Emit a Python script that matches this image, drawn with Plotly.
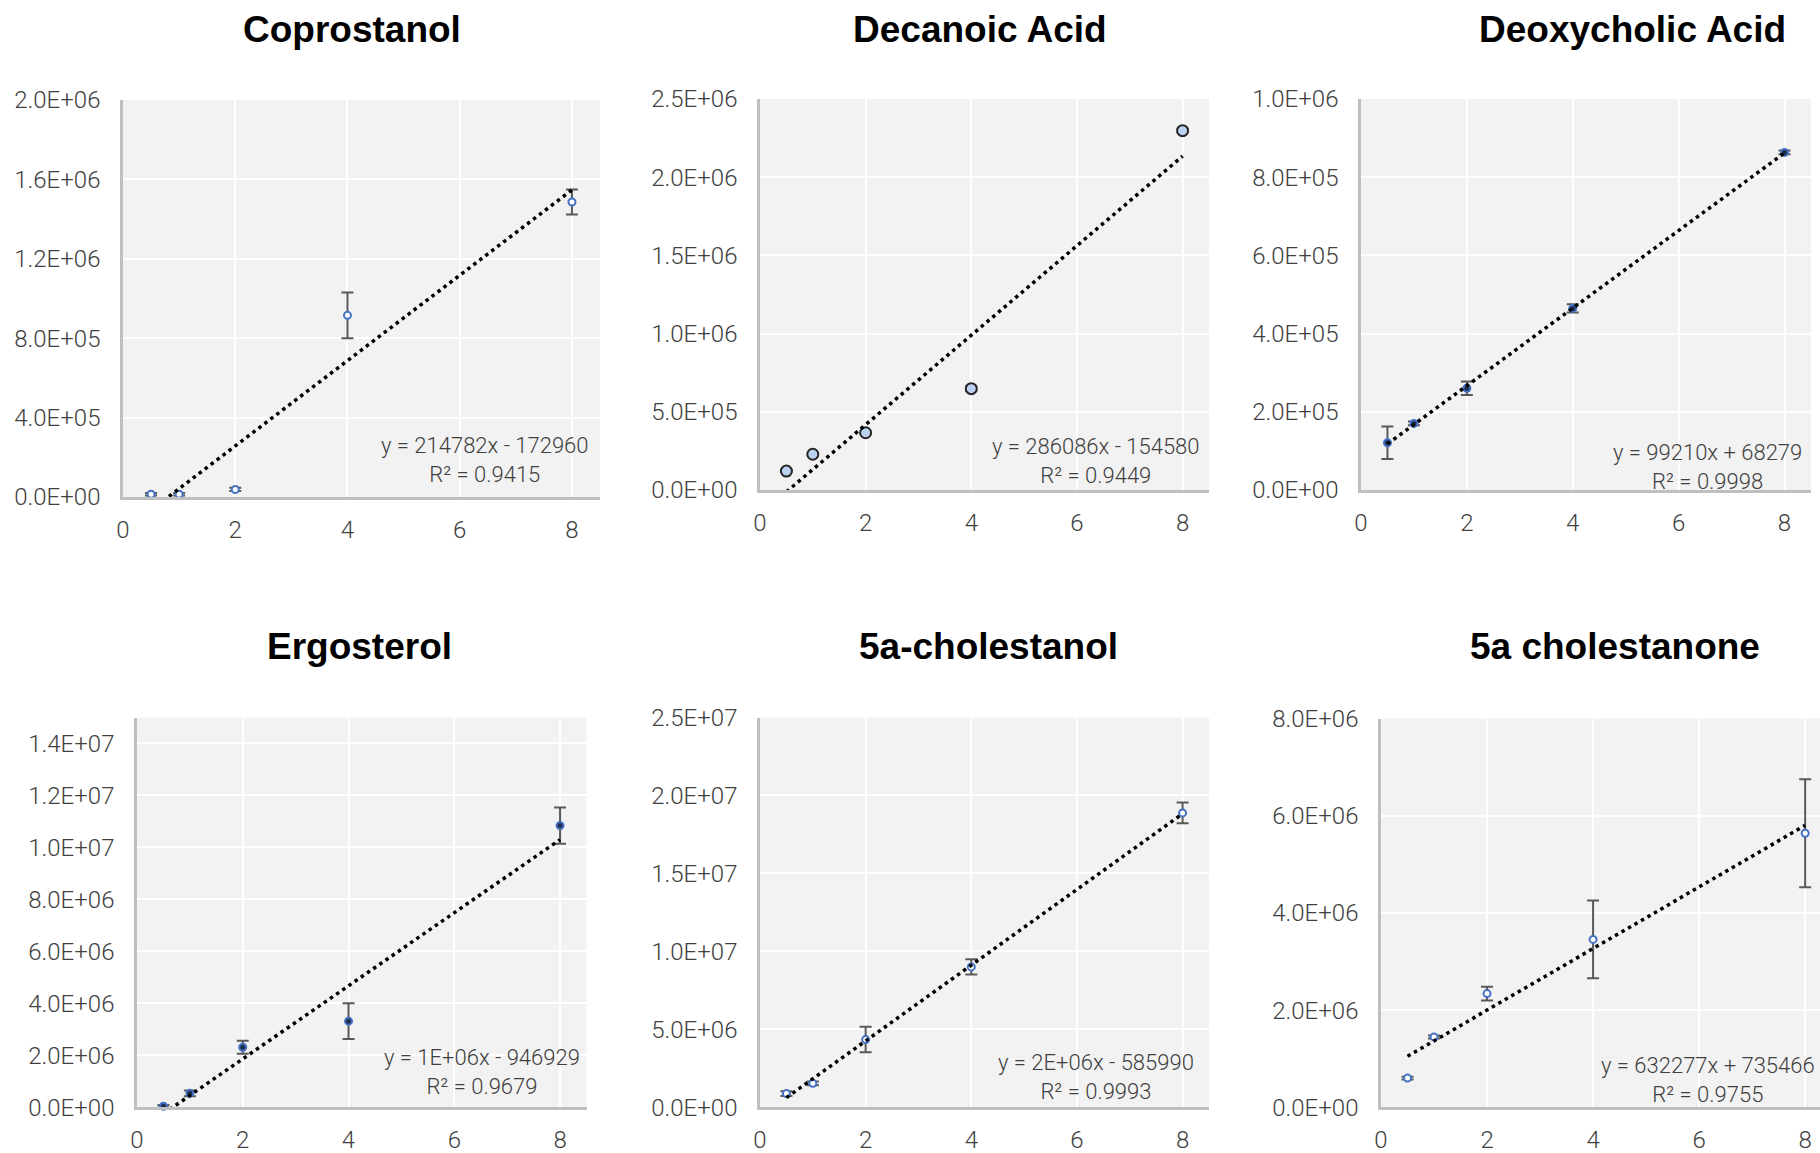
import numpy as np
import plotly.graph_objects as go

W, H = 1820, 1153

# Calibration standards (concentration) and mean peak area with SD
concentration = [0.5, 1, 2, 4, 8]

coprostanol_mean = [14000, 14000, 38000, 915000, 1486000]
coprostanol_sd = [6000, 6000, 8000, 115000, 63000]

decanoic_mean = [121000, 228500, 366000, 648000, 2297500]
decanoic_sd = [6000, 6000, 9000, 16000, 12000]

deoxycholic_mean = [120900, 170300, 260100, 464400, 863400]
deoxycholic_sd = [41700, 5000, 17400, 10500, 5000]

ergosterol_mean = [40000, 540000, 2310000, 3315000, 10840000]
ergosterol_sd = [50000, 110000, 250000, 690000, 700000]

cholestanol_mean = [882000, 1538000, 4344000, 9005000, 18880000]
cholestanol_sd = [150000, 120000, 815000, 490000, 670000]

cholestanone_mean = [601000, 1448000, 2339000, 3454000, 5640000]
cholestanone_sd = [30000, 30000, 140000, 800000, 1110000]

titles = ["Coprostanol", "Decanoic Acid", "Deoxycholic Acid",
          "Ergosterol", "5a-cholestanol", "5a cholestanone"]

equations = ["y = 214782x - 172960", "y = 286086x - 154580", "y = 99210x + 68279",
             "y = 1E+06x - 946929", "y = 2E+06x - 585990", "y = 632277x + 735466"]
r_squared = ["R² = 0.9415", "R² = 0.9449", "R² = 0.9998",
             "R² = 0.9679", "R² = 0.9993", "R² = 0.9755"]

x_ticks = [0, 2, 4, 6, 8]
y_ticks = [
    [0, 4e5, 8e5, 1.2e6, 1.6e6, 2.0e6],
    [0, 5e5, 1.0e6, 1.5e6, 2.0e6, 2.5e6],
    [0, 2e5, 4e5, 6e5, 8e5, 1.0e6],
    [0, 2e6, 4e6, 6e6, 8e6, 1.0e7, 1.2e7, 1.4e7],
    [0, 5e6, 1.0e7, 1.5e7, 2.0e7, 2.5e7],
    [0, 2e6, 4e6, 6e6, 8e6],
]
y_max = [2.0e6, 2.5e6, 1.0e6, 1.5e7, 2.5e7, 8.0e6]
x_max = [8.5, 8.5, 8.5, 8.5, 8.5, 8.28]

means = [coprostanol_mean, decanoic_mean, deoxycholic_mean,
         ergosterol_mean, cholestanol_mean, cholestanone_mean]
sds = [coprostanol_sd, decanoic_sd, deoxycholic_sd,
       ergosterol_sd, cholestanol_sd, cholestanone_sd]

# plot-area boxes in pixels: left, right, top, bottom
boxes = [
    (123, 600, 100, 497),
    (760, 1209, 99, 490),
    (1361, 1811, 99, 490),
    (137, 586.5, 717.5, 1107.3),
    (760, 1209, 717.5, 1107.3),
    (1381, 1820, 718.5, 1107.3),
]
title_pos = [(352, 29), (980, 29), (1632, 29), (359, 646.5), (989, 646.5), (1615, 646.5)]
eq_pos = [(484.6, 460.3), (1096.3, 461.4), (1707.4, 466.6),
          (482.3, 1072), (1096.3, 1076.5), (1708, 1080)]

BLUE = "#4472c4"
marker_styles = [
    dict(size=7, color="#ffffff", line=dict(color=BLUE, width=2)),
    dict(size=11, color="#bcd0f0", line=dict(color="#262626", width=2)),
    dict(size=7, color="#1f2d4f", line=dict(color=BLUE, width=2)),
    dict(size=7, color="#1f2d4f", line=dict(color=BLUE, width=2)),
    dict(size=7, color="#ffffff", line=dict(color=BLUE, width=2)),
    dict(size=7, color="#ffffff", line=dict(color=BLUE, width=2)),
]

TICK_FONT = dict(family="Roboto", size=24, color="#404040", weight=300)

fig = go.Figure()
layout = dict(
    width=W, height=H,
    margin=dict(l=0, r=0, t=0, b=0, autoexpand=False),
    paper_bgcolor="white",
    plot_bgcolor="rgba(0,0,0,0)",
    showlegend=False,
    annotations=[],
    shapes=[],
)

for i in range(6):
    n = "" if i == 0 else str(i + 1)
    xa, ya = "x" + n, "y" + n
    left, right, top, bottom = boxes[i]

    # measured points with error bars
    fig.add_trace(go.Scatter(
        x=concentration, y=means[i], xaxis=xa, yaxis=ya,
        mode="markers", marker=marker_styles[i],
        error_y=dict(type="data", array=sds[i], color="#595959", thickness=2, width=6),
        hoverinfo="skip", cliponaxis=False,
    ))

    # linear least-squares trendline over the standard range
    slope, icpt = np.polyfit(concentration, means[i], 1)
    xs = np.array([concentration[0], concentration[-1]])
    fig.add_trace(go.Scatter(
        x=xs, y=slope * xs + icpt, xaxis=xa, yaxis=ya,
        mode="lines", line=dict(color="black", width=3.5, dash="3.5px,4px"),
        hoverinfo="skip",
    ))

    layout["xaxis" + n] = dict(
        domain=[left / W, right / W], anchor=ya, range=[0, x_max[i]],
        tickvals=x_ticks, ticktext=[str(v) for v in x_ticks],
        showgrid=True, gridcolor="white", gridwidth=2,
        showline=True, linecolor="#bfbfbf", linewidth=2.5,
        zeroline=False, ticks="", tickfont=TICK_FONT, ticklabelstandoff=9,
        automargin=False,
    )
    layout["yaxis" + n] = dict(
        domain=[1 - bottom / H, 1 - top / H], anchor=xa, range=[0, y_max[i]],
        tickvals=y_ticks[i], ticktext=[f"{v:.1E}" for v in y_ticks[i]],
        showgrid=True, gridcolor="white", gridwidth=2,
        showline=True, linecolor="#bfbfbf", linewidth=2.5,
        zeroline=False, ticks="", tickfont=TICK_FONT, ticklabelstandoff=15,
        automargin=False,
    )

    # grey plot background
    layout["shapes"].append(dict(
        type="rect", xref="paper", yref="paper", layer="below",
        x0=left / W, x1=right / W, y0=1 - bottom / H, y1=1 - top / H,
        fillcolor="#f2f2f2", line=dict(width=0),
    ))

    tx, ty = title_pos[i]
    layout["annotations"].append(dict(
        text=titles[i], xref="paper", yref="paper", x=tx / W, y=1 - ty / H,
        xanchor="center", yanchor="middle", showarrow=False,
        font=dict(family="Liberation Sans", size=37, color="black", weight="bold"),
    ))
    ex, ey = eq_pos[i]
    layout["annotations"].append(dict(
        text=equations[i] + "<br>" + r_squared[i], xref="paper", yref="paper",
        x=ex / W, y=1 - ey / H, xanchor="center", yanchor="middle", align="center",
        showarrow=False,
        font=dict(family="Roboto", size=22, color="#404040", weight=300),
    ))

fig.update_layout(**layout)
fig.write_html("out.html")
